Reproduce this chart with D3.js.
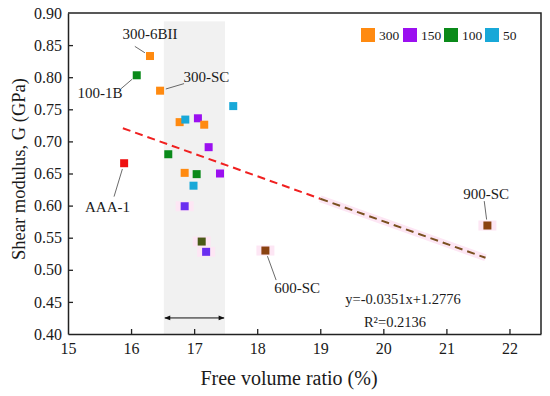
<!DOCTYPE html>
<html>
<head>
<meta charset="UTF-8">
<script src="https://d3js.org/d3.v7.min.js"></script>
<style>
  body { margin: 0; background: #fff; }
  svg text { font-family: "Liberation Serif", "Times New Roman", serif; fill: #1a1a1a; }
</style>
</head>
<body>
<svg width="550" height="396"></svg>
<script>
// free volume ratio (%), shear modulus (GPa), group colour key
const xs = [16.30, 16.09, 16.46, 17.62, 16.77, 16.86, 17.06, 17.16, 17.23, 16.59, 15.89, 16.85, 17.04, 17.41, 16.99, 16.85, 17.12, 17.19, 18.13, 21.65];
const ys = [0.833, 0.803, 0.779, 0.755, 0.730, 0.734, 0.736, 0.726, 0.691, 0.680, 0.666, 0.651, 0.649, 0.650, 0.631, 0.599, 0.544, 0.528, 0.530, 0.569];
const groups = ["300", "100", "300", "50", "300", "50", "150", "300", "150", "100", "red", "300", "100", "150", "50", "blue", "olive", "blue", "brown", "brown"];
const halo = [0, 0, 0, 0, 0, 0, 0, 0, 0, 0, 0, 0, 0, 0, 0, 1, 1, 1, 1, 1];

const legendKeys = ["300", "150", "100", "50"];
const colors = { "300": "#ff8a10", "150": "#9b10f0", "100": "#0a8a1a", "50": "#18a8d8", red: "#ee1010", blue: "#6a2ef0", olive: "#4a5a18", brown: "#8a4210" };

const xTicks = [15, 16, 17, 18, 19, 20, 21, 22];
const yTicks = [0.40, 0.45, 0.50, 0.55, 0.60, 0.65, 0.70, 0.75, 0.80, 0.85, 0.90];

const labels = [
  { t: "300-6BII", i: 0, tx: 16.3, ty: 0.86, x1: 16.06, y1: 0.848, anchor: "middle" },
  { t: "100-1B", i: 1, tx: 15.15, ty: 0.768, x1: 15.84, y1: 0.782, anchor: "start" },
  { t: "300-SC", i: 2, tx: 16.83, ty: 0.792, x1: 16.84, y1: 0.79, anchor: "start" },
  { t: "AAA-1", i: 10, tx: 15.27, ty: 0.590, x1: 15.73, y1: 0.614, anchor: "start" },
  { t: "600-SC", i: 18, tx: 18.27, ty: 0.464, x1: 18.3, y1: 0.484, anchor: "start" },
  { t: "900-SC", i: 19, tx: 21.63, ty: 0.611, x1: 21.6, y1: 0.607, anchor: "middle" }
];

const fitA = -0.0351, fitB = 1.2776;
const fitRange = [15.87, 19.0, 21.62];
const band = [16.52, 17.49];

const svg = d3.select("svg");
const m = { l: 68, r: 9, t: 13, b: 62 };
const W = 550, H = 396;
const x = d3.scaleLinear().domain([15, 22.5]).range([m.l, W - m.r]);
const y = d3.scaleLinear().domain([0.40, 0.90]).range([H - m.b, m.t]);

// shaded band
svg.append("rect")
  .attr("x", x(band[0])).attr("y", y(0.887))
  .attr("width", x(band[1]) - x(band[0])).attr("height", y(0.40) - y(0.887))
  .attr("fill", "#f1f1f1");

// double arrow
const defs = svg.append("defs");
defs.append("marker").attr("id", "ah").attr("viewBox", "0 0 10 10")
  .attr("refX", 9).attr("refY", 5).attr("markerWidth", 9).attr("markerHeight", 6)
  .attr("orient", "auto-start-reverse")
  .append("path").attr("d", "M0,1 L10,5 L0,9 Z").attr("fill", "#111");
svg.append("line")
  .attr("x1", x(band[0]) + 1).attr("x2", x(band[1]) - 1)
  .attr("y1", y(0.425)).attr("y2", y(0.425))
  .attr("stroke", "#111").attr("stroke-width", 1)
  .attr("marker-start", "url(#ah)").attr("marker-end", "url(#ah)");

// fit line
const f = v => fitA * v + fitB;
svg.append("line")
  .attr("x1", x(fitRange[1])).attr("x2", x(fitRange[2]))
  .attr("y1", y(f(fitRange[1]))).attr("y2", y(f(fitRange[2])))
  .attr("stroke", "#fde6f4").attr("stroke-width", 7);
svg.append("line")
  .attr("x1", x(fitRange[0])).attr("x2", x(fitRange[1]))
  .attr("y1", y(f(fitRange[0]))).attr("y2", y(f(fitRange[1])))
  .attr("stroke", "#f02020").attr("stroke-width", 2).attr("stroke-dasharray", "8,5");
svg.append("line")
  .attr("x1", x(fitRange[1])).attr("x2", x(fitRange[2]))
  .attr("y1", y(f(fitRange[1]))).attr("y2", y(f(fitRange[2])))
  .attr("stroke", "#7a5020").attr("stroke-width", 2).attr("stroke-dasharray", "8,5");

// points
const data = xs.map((v, i) => ({ x: v, y: ys[i], g: groups[i], h: halo[i] }));
const s = 8;
svg.selectAll(".halo").data(data.filter(d => d.h)).enter().append("rect")
  .attr("x", d => x(d.x) - 9).attr("y", d => y(d.y) - 5)
  .attr("width", 18).attr("height", 10).attr("fill", "#fde6f4");
svg.selectAll(".pt").data(data).enter().append("rect")
  .attr("x", d => x(d.x) - s / 2).attr("y", d => y(d.y) - s / 2)
  .attr("width", s).attr("height", s).attr("fill", d => colors[d.g]);

// leader lines and labels
labels.forEach(d => {
  const px = x(xs[d.i]), py = y(ys[d.i]);
  const dx = px - x(d.x1), dy = py - y(d.y1), len = Math.hypot(dx, dy);
  svg.append("line")
    .attr("x1", x(d.x1)).attr("y1", y(d.y1))
    .attr("x2", px - dx / len * 6).attr("y2", py - dy / len * 6)
    .attr("stroke", "#444").attr("stroke-width", 0.8);
  svg.append("text").attr("x", x(d.tx)).attr("y", y(d.ty))
    .attr("text-anchor", d.anchor).attr("font-size", 15).text(d.t);
});

// equation
svg.append("text").attr("x", 403).attr("y", 304).attr("text-anchor", "middle")
  .attr("font-size", 14.5).text("y=-0.0351x+1.2776");
svg.append("text").attr("x", 395).attr("y", 327).attr("text-anchor", "middle")
  .attr("font-size", 14.5).text("R²=0.2136");

// legend
const lg = svg.append("g").attr("transform", "translate(361,28)");
const lx = [0, 42, 83, 124];
legendKeys.forEach((k, i) => {
  lg.append("rect").attr("x", lx[i]).attr("y", 0).attr("width", 14).attr("height", 14).attr("fill", colors[k]);
  lg.append("text").attr("x", lx[i] + 18).attr("y", 12).attr("font-size", 13.5).text(k);
});

// axes
const xAxis = svg.append("g").attr("transform", `translate(0,${H - m.b})`)
  .call(d3.axisBottom(x).tickValues(xTicks).tickSizeInner(-5).tickSizeOuter(0).tickPadding(9).tickFormat(d3.format("d")));
const yAxis = svg.append("g").attr("transform", `translate(${m.l},0)`)
  .call(d3.axisLeft(y).tickValues(yTicks).tickSizeInner(-5).tickSizeOuter(0).tickPadding(6).tickFormat(d3.format(".2f")));
[xAxis, yAxis].forEach(a => {
  a.select(".domain").attr("stroke", "#222").attr("stroke-width", 1.5);
  a.selectAll(".tick line").attr("stroke", "#222").attr("stroke-width", 1.3);
  a.selectAll(".tick text").attr("font-size", 16).attr("fill", "#1a1a1a")
    .style("font-family", "'Liberation Serif', serif");
});
xAxis.selectAll(".tick").filter(d => d === 15).select("line").remove();
yAxis.selectAll(".tick").filter(d => d === 0.40 || d === 0.90).select("line").remove();

// top and right border
svg.append("path")
  .attr("d", `M${m.l},${m.t} H${W - m.r} V${H - m.b}`)
  .attr("fill", "none").attr("stroke", "#222").attr("stroke-width", 1.5);

// titles
svg.append("text").attr("x", 289).attr("y", 385).attr("text-anchor", "middle")
  .attr("font-size", 20).text("Free volume ratio (%)");
svg.append("text").attr("transform", `translate(25,169) rotate(-90)`).attr("text-anchor", "middle")
  .attr("font-size", 18.5).text("Shear modulus, G (GPa)");
</script>
</body>
</html>
